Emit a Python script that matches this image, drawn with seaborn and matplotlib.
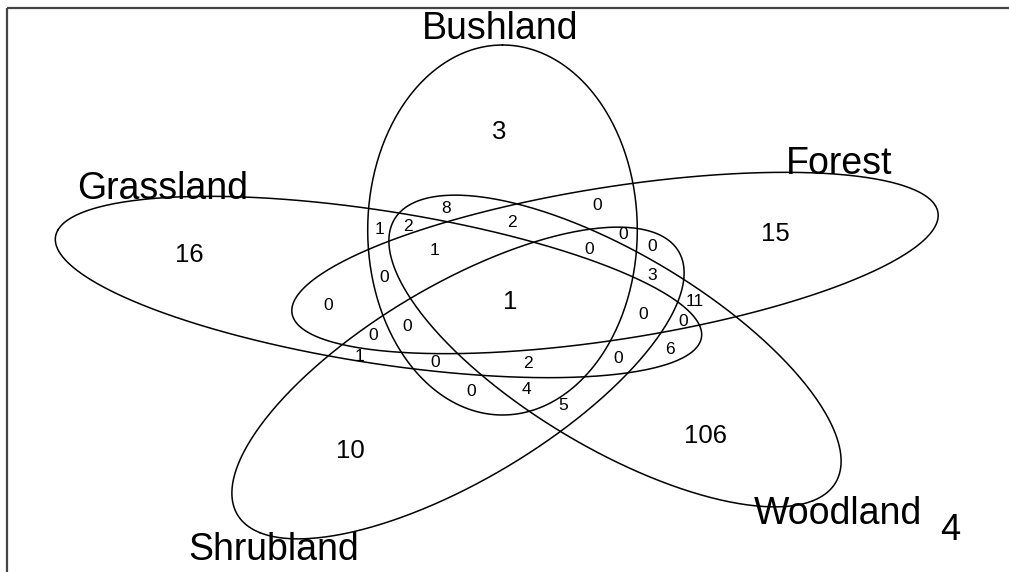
import numpy as np
import pandas as pd
import matplotlib.pyplot as plt
import seaborn as sns

# ---- data ----
set_names = ['Bushland', 'Forest', 'Woodland', 'Shrubland', 'Grassland']
only_counts = [3, 15, 106, 10, 16]          # one set only
center_count = 1                             # all five sets
outside_count = 4                            # none of the sets
overlap_counts = [8, 2, 1, 2, 0, 0, 0, 0, 1, 0, 0, 3, 11,
                  0, 0, 0, 0, 1, 0, 2, 6, 0, 0, 4, 5]

# ---- layout (pixel space of the 1009x572 canvas) ----
ell_centers = [(502.5, 230), (615, 263), (615, 351), (458, 383), (378.5, 287)]
sx, sy = 337, 185        # horizontal / vertical stretch
semi_a, semi_b = 0.4, 1.0
label_pos = [(500, 29), (839, 164), (838, 514), (274, 550), (163, 189)]
only_pos = [(499, 132), (775, 234), (705, 436), (350, 451), (189, 255)]
center_pos = (510, 302)
outside_pos = (950, 530)
overlap_pos = [(445.7, 208.3), (408.3, 226.7), (379.3, 229.3), (512.3, 222.3),
               (597.3, 206), (623.3, 234.3), (652.3, 246.7), (589.3, 250),
               (434.3, 250.7), (384.3, 277.3), (328.3, 305), (652.3, 276),
               (694.3, 301.7), (643.3, 314.3), (682.7, 321), (406.7, 326.5),
               (372.7, 335), (360, 356.7), (435, 362.7), (528.3, 364),
               (670, 349), (618.3, 358.3), (471, 391.7), (526.7, 389.3),
               (563.3, 406)]

sns.set_theme(style='white')
plt.rcParams['font.family'] = ['Liberation Sans', 'DejaVu Sans']
plt.rcParams['text.color'] = 'black'

fig = plt.figure(figsize=(10.09, 5.72), dpi=100)
ax = fig.add_axes([0, 0, 1, 1])

t = np.linspace(0, 2 * np.pi, 400)
for k, (cx, cy) in enumerate(ell_centers):
    alpha = np.deg2rad(90 - 72 * k)
    u = semi_b * np.cos(t) * np.cos(alpha) - semi_a * np.sin(t) * np.sin(alpha)
    v = semi_b * np.cos(t) * np.sin(alpha) + semi_a * np.sin(t) * np.cos(alpha)
    df = pd.DataFrame({'x': cx + sx * u, 'y': cy - sy * v})
    sns.lineplot(data=df, x='x', y='y', sort=False, estimator=None,
                 color='black', lw=1.1, ax=ax)

for name, (x, y) in zip(set_names, label_pos):
    ax.text(x, y, name, fontsize=27, ha='center', va='center')
for n, (x, y) in zip(only_counts, only_pos):
    ax.text(x, y, str(n), fontsize=18.5, ha='center', va='center')
for n, (x, y) in zip(overlap_counts, overlap_pos):
    ax.text(x, y, str(n), fontsize=12.5, ha='center', va='center')
ax.text(*center_pos, str(center_count), fontsize=18.5, ha='center', va='center')
ax.text(*outside_pos, str(outside_count), fontsize=26, ha='center', va='center')

# frame of the original canvas (only top and left edges visible)
ax.plot([7, 1009], [8, 8], color='#444444', lw=1.6, solid_capstyle='butt')
ax.plot([7, 7], [8, 572], color='#444444', lw=1.6, solid_capstyle='butt')

ax.set_xlim(0, 1009)
ax.set_ylim(572, 0)
ax.axis('off')

fig.savefig('out.png', dpi=100)
